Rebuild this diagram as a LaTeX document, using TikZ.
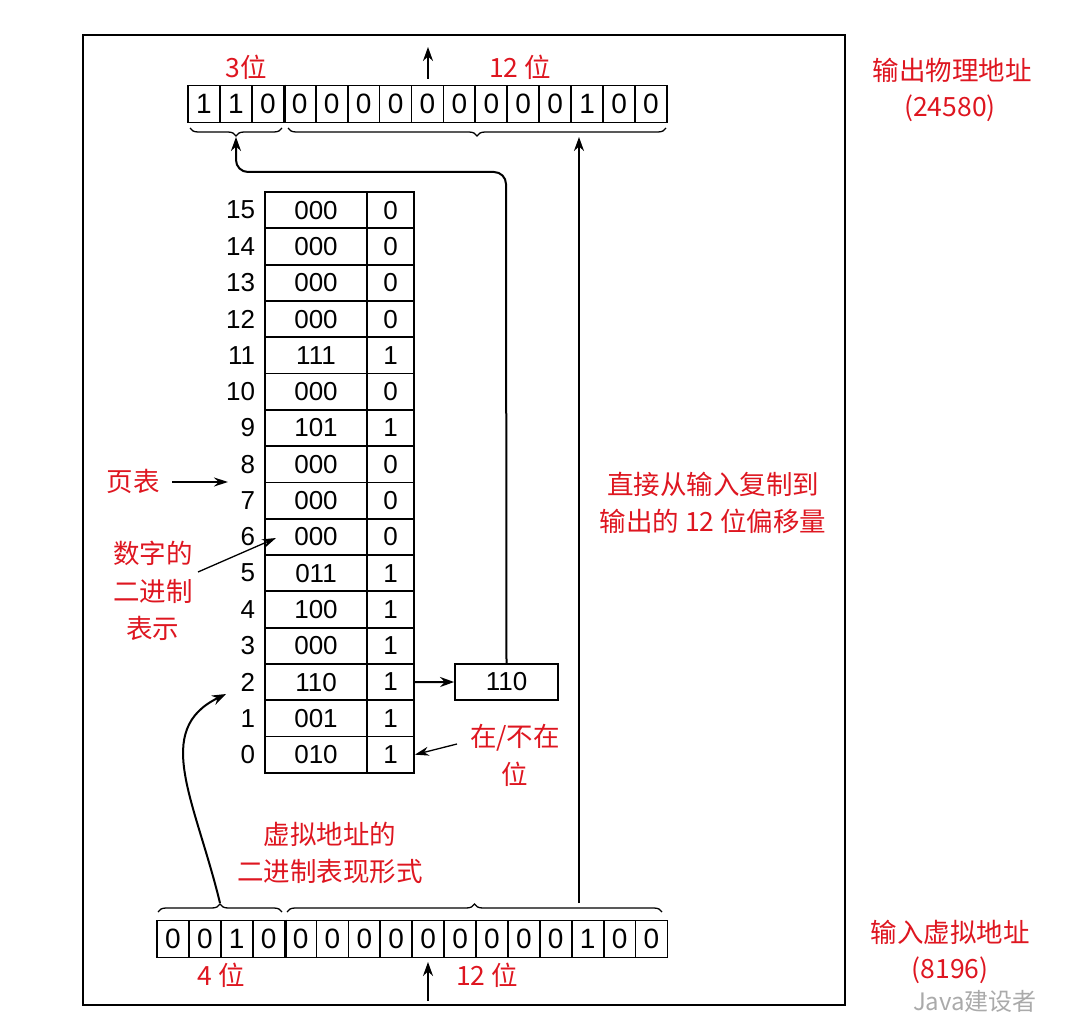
\documentclass[tikz,border=0pt]{standalone}
\usepackage{fontspec}
\setmainfont{Liberation Sans}
\newfontfamily\cjk{Noto Sans CJK SC}
\usetikzlibrary{arrows.meta,decorations.pathreplacing}
\definecolor{lblred}{RGB}{222,22,32}
\definecolor{wmgray}{RGB}{170,170,170}
\begin{document}
\begin{tikzpicture}[x=1pt,y=-1pt,
  line width=1.8pt,
  bitcell/.style={draw,minimum width=31.9pt,minimum height=37pt,inner sep=0pt,font=\fontsize{28}{28}\selectfont},
  framecell/.style={draw,minimum width=#1,minimum height=36.3pt,inner sep=0pt,font=\fontsize{26}{26}\selectfont},
  rownum/.style={anchor=east,inner sep=0pt,font=\fontsize{26}{26}\selectfont},
  lbl/.style={text=lblred,inner sep=0pt,font=\cjk\fontsize{26.5}{26.5}\selectfont,align=center},
  arr/.style={-{Stealth[length=14pt,width=10pt]},line width=2pt},
  thinarr/.style={-{Stealth[length=14pt,width=9pt]},line width=1.3pt},
  bracestyle/.style={decorate,decoration={brace,amplitude=8pt},line width=1.3pt}]
\useasboundingbox (0,0) rectangle (1080,1030);
% frame
\draw[line width=2.2pt] (83,35) rectangle (845,1005);

% top register
\foreach \d [count=\i] in {1,1,0,0,0,0,0,0,0,0,0,0,1,0,0}
  \node[bitcell] (t\i) at ({188+31.93*(\i-0.5)},104) {\d};
\draw[line width=2.2pt] (t3.north east) -- (t3.south east);
% bottom register
\foreach \d [count=\i] in {0,0,1,0,0,0,0,0,0,0,0,0,0,1,0,0}
  \node[bitcell] (b\i) at ({157+31.9*(\i-0.5)},939) {\d};
\draw[line width=2.2pt] (b4.north east) -- (b4.south east);

% braces top (pointing down)
\draw[bracestyle] (282,128) -- (190,128);
\draw[bracestyle] (666,128) -- (288,128);
\coordinate (ttipL) at (236,137);
\coordinate (ttipR) at (579,137);
% braces bottom (pointing up)
\draw[bracestyle] (158,912) -- (282,912);
\draw[bracestyle] (287,912) -- (662,912);
\coordinate (btipL) at (220,903);
\coordinate (btipR) at (579,903);

% page table
\foreach \f/\p [count=\i from 0] in {010/1,001/1,110/1,000/1,100/1,011/1,000/0,000/0,000/0,101/1,000/0,111/1,000/0,000/0,000/0,000/0}{
  \node[framecell=102pt] (f\i) at (316,{192+36.3*(15-\i)+18.15}) {\f};
  \node[framecell=47pt] (p\i) at (390.5,{192+36.3*(15-\i)+18.15}) {\p};
  \node[rownum] (n\i) at (256,{192+36.3*(15-\i)+18.15}) {\i};
}

% result box
\node[draw,minimum width=103pt,minimum height=36pt,inner sep=0pt,font=\fontsize{26}{26}\selectfont] (res) at (506.5,682) {110};
\draw[arr] (p2.east) -- (res.west);
\draw[arr,rounded corners=12pt] (res.north) -- (506,172) -- (236,172) -- (ttipL);

% offset copy arrow
\draw[arr] (btipR) -- (ttipR);

% in/out arrows
\coordinate (outS) at (428,79);
\coordinate (outE) at (428,47);
\draw[arr] (outS) -- (outE);
\coordinate (inS) at (428,1001);
\coordinate (inE) at (428,962);
\draw[arr] (inS) -- (inE);

% curved arrow from virtual page to row 2
\coordinate (rowtip) at (226,694);
\draw[arr] (btipL) .. controls (195,800) and (152,730) .. (rowtip);

% labels
\node[lbl] (l3) at (246,67) {3位};
\node[lbl] (l12t) at (520,67) {12 位};
\node[lbl] (l4) at (221,975) {4 位};
\node[lbl] (l12b) at (487,975) {12 位};
\node[lbl] (outl) at (952,70) {输出物理地址};
\node[lbl] (outn) at (950,108) {(24580)};
\node[lbl] (inl) at (950,932) {输入虚拟地址};
\node[lbl] (inn) at (950,970) {(8196)};
\node[lbl,align=center] (copyl) at (713,503) {直接从输入复制到\\[10pt]输出的 12 位偏移量};
\node[lbl] (ptl) at (133,481) {页表};
\coordinate (ptE) at (228,482);
\draw[thinarr] (ptl.east) ++(12,1) -- (ptE);
\node[lbl,align=center] (binl) at (153,591) {数字的\\[11pt]二进制\\[11pt]表示};
\coordinate (binS) at (198,572);
\coordinate (binE) at (276,538);
\draw[thinarr] (binS) -- (binE);
\node[lbl,align=center] (vl) at (330,853) {虚拟地址的\\[10pt]二进制表现形式};
\node[lbl,align=center] (pl) at (515,755) {在/不在\\[10pt]位};
\coordinate (plS) at (457,744);
\draw[thinarr] (plS) -- (p0.east);
% watermark
\node[text=wmgray,inner sep=0pt,font=\cjk\fontsize{24}{24}\selectfont] (wm) at (975,1001) {Java建设者};
\end{tikzpicture}
\end{document}
